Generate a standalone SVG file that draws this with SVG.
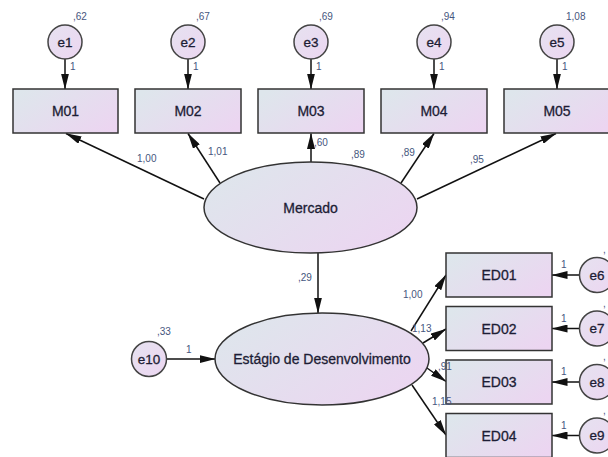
<svg xmlns="http://www.w3.org/2000/svg" width="608" height="457" viewBox="0 0 608 457">
<style>
.box{stroke:#333;stroke-width:1.5;fill:url(#g)}
.ell{stroke:#333;stroke-width:1.5;fill:url(#g)}
.err{stroke:#444;stroke-width:1.5;fill:url(#gc)}
.lbl{font-family:"Liberation Sans",Arial,sans-serif;font-size:14px;fill:#1d1d35;stroke:#1d1d35;stroke-width:0.3;text-anchor:middle;dominant-baseline:central}
.elbl{font-family:"Liberation Sans",Arial,sans-serif;font-size:13.5px;fill:#1d1d35;stroke:#1d1d35;stroke-width:0.3;text-anchor:middle;dominant-baseline:central}
.p{font-family:"Liberation Sans",Arial,sans-serif;font-size:10px;fill:#46567e}
.con{stroke:#111;stroke-width:1.5;fill:none;marker-end:url(#ah)}
</style>
<defs>
<linearGradient id="g" x1="0" y1="0.2" x2="1" y2="0.8">
<stop offset="0" stop-color="#dee6ec"/>
<stop offset="1" stop-color="#ecd5f1"/>
</linearGradient>
<linearGradient id="gc" x1="0" y1="0" x2="1" y2="1">
<stop offset="0" stop-color="#e6e2f0"/>
<stop offset="1" stop-color="#ecd6f1"/>
</linearGradient>
<marker id="ah" viewBox="0 0 16 8" refX="15.5" refY="4" markerWidth="16" markerHeight="8" markerUnits="userSpaceOnUse" orient="auto">
<path d="M0,0 L16,4 L0,8 z" fill="#111"/>
</marker>
</defs>
<rect width="608" height="457" fill="#fff"/>
<g id="connectors">
<line class="con" x1="65" y1="59" x2="65" y2="89"/>
<line class="con" x1="188" y1="59" x2="188" y2="89"/>
<line class="con" x1="311" y1="59" x2="311" y2="89"/>
<line class="con" x1="434" y1="59" x2="434" y2="89"/>
<line class="con" x1="557" y1="59" x2="557" y2="89"/>
<line class="con" x1="204" y1="199" x2="66" y2="133.5"/>
<line class="con" x1="220" y1="183" x2="188" y2="133.5"/>
<line class="con" x1="311" y1="162" x2="311" y2="133.5"/>
<line class="con" x1="401" y1="183" x2="434" y2="133.5"/>
<line class="con" x1="417" y1="199" x2="556" y2="133.5"/>
<line class="con" x1="318" y1="253" x2="318" y2="313"/>
<line class="con" x1="167" y1="359" x2="215" y2="359"/>
<line class="con" x1="411" y1="331" x2="446" y2="275"/>
<line class="con" x1="423" y1="343" x2="446" y2="329"/>
<line class="con" x1="427" y1="368" x2="446" y2="381.5"/>
<line class="con" x1="412" y1="385" x2="446" y2="435"/>
<line class="con" x1="579.5" y1="275" x2="552" y2="275"/>
<line class="con" x1="579.5" y1="328.5" x2="552" y2="328.5"/>
<line class="con" x1="579.5" y1="382" x2="552" y2="382"/>
<line class="con" x1="579.5" y1="435.5" x2="552" y2="435.5"/>
</g>
<g id="e1"><circle class="err" cx="65" cy="42" r="17"/><text class="elbl" x="65" y="42">e1</text><text class="p" x="73" y="20">,62</text></g>
<g id="e2"><circle class="err" cx="188" cy="42" r="17"/><text class="elbl" x="188" y="42">e2</text><text class="p" x="196" y="20">,67</text></g>
<g id="e3"><circle class="err" cx="311" cy="42" r="17"/><text class="elbl" x="311" y="42">e3</text><text class="p" x="319" y="20">,69</text></g>
<g id="e4"><circle class="err" cx="434" cy="42" r="17"/><text class="elbl" x="434" y="42">e4</text><text class="p" x="441" y="20">,94</text></g>
<g id="e5"><circle class="err" cx="557" cy="42" r="17"/><text class="elbl" x="557" y="42">e5</text><text class="p" x="566" y="20">1,08</text></g>
<g id="M01"><rect class="box" x="13" y="89" width="105" height="44"/><text class="lbl" x="65.5" y="111">M01</text></g>
<g id="M02"><rect class="box" x="135" y="89" width="106" height="44"/><text class="lbl" x="188" y="111">M02</text></g>
<g id="M03"><rect class="box" x="258" y="89" width="106" height="44"/><text class="lbl" x="311" y="111">M03</text></g>
<g id="M04"><rect class="box" x="381" y="89" width="106" height="44"/><text class="lbl" x="434" y="111">M04</text></g>
<g id="M05"><rect class="box" x="504" y="89" width="106" height="44"/><text class="lbl" x="557" y="111">M05</text></g>
<g id="Mercado"><ellipse class="ell" cx="310.5" cy="207.5" rx="106.5" ry="45.5"/><text class="lbl" x="310.5" y="208">Mercado</text></g>
<g id="Estagio"><ellipse class="ell" cx="322" cy="359" rx="107" ry="46"/><text class="lbl" x="322" y="359">Estágio de Desenvolvimento</text></g>
<g id="e10"><circle class="err" cx="149" cy="359" r="17.5"/><text class="elbl" x="149" y="359">e10</text><text class="p" x="157" y="335">,33</text></g>
<g id="ED01"><rect class="box" x="446" y="253" width="106" height="44"/><text class="lbl" x="499" y="275">ED01</text></g>
<g id="ED02"><rect class="box" x="446" y="306.5" width="106" height="44"/><text class="lbl" x="499" y="328.5">ED02</text></g>
<g id="ED03"><rect class="box" x="446" y="360" width="106" height="44"/><text class="lbl" x="499" y="382">ED03</text></g>
<g id="ED04"><rect class="box" x="446" y="413.5" width="106" height="44"/><text class="lbl" x="499" y="435.5">ED04</text></g>
<g id="e6"><circle class="err" cx="597" cy="275" r="17.5"/><text class="elbl" x="597" y="275">e6</text><text class="p" x="603" y="253">,</text></g>
<g id="e7"><circle class="err" cx="597" cy="328.5" r="17.5"/><text class="elbl" x="597" y="328.5">e7</text><text class="p" x="603" y="306.5">,</text></g>
<g id="e8"><circle class="err" cx="597" cy="382" r="17.5"/><text class="elbl" x="597" y="382">e8</text><text class="p" x="603" y="360">,</text></g>
<g id="e9"><circle class="err" cx="597" cy="435.5" r="17.5"/><text class="elbl" x="597" y="435.5">e9</text><text class="p" x="603" y="413.5">,</text></g>
<g id="labels">
<text class="p" x="70" y="70">1</text>
<text class="p" x="193" y="70">1</text>
<text class="p" x="316" y="70">1</text>
<text class="p" x="439" y="70">1</text>
<text class="p" x="562" y="70">1</text>
<text class="p" x="137" y="161.5">1,00</text>
<text class="p" x="208" y="155">1,01</text>
<text class="p" x="314" y="146">,60</text>
<text class="p" x="351" y="158">,89</text>
<text class="p" x="401" y="156">,89</text>
<text class="p" x="470" y="162.5">,95</text>
<text class="p" x="298" y="281">,29</text>
<text class="p" x="186" y="353">1</text>
<text class="p" x="403" y="298">1,00</text>
<text class="p" x="412" y="331.5">1,13</text>
<text class="p" x="438" y="370">,91</text>
<text class="p" x="432" y="405">1,15</text>
<text class="p" x="561" y="268">1</text>
<text class="p" x="561" y="321.5">1</text>
<text class="p" x="561" y="375">1</text>
<text class="p" x="561" y="428.5">1</text>
</g>
</svg>
